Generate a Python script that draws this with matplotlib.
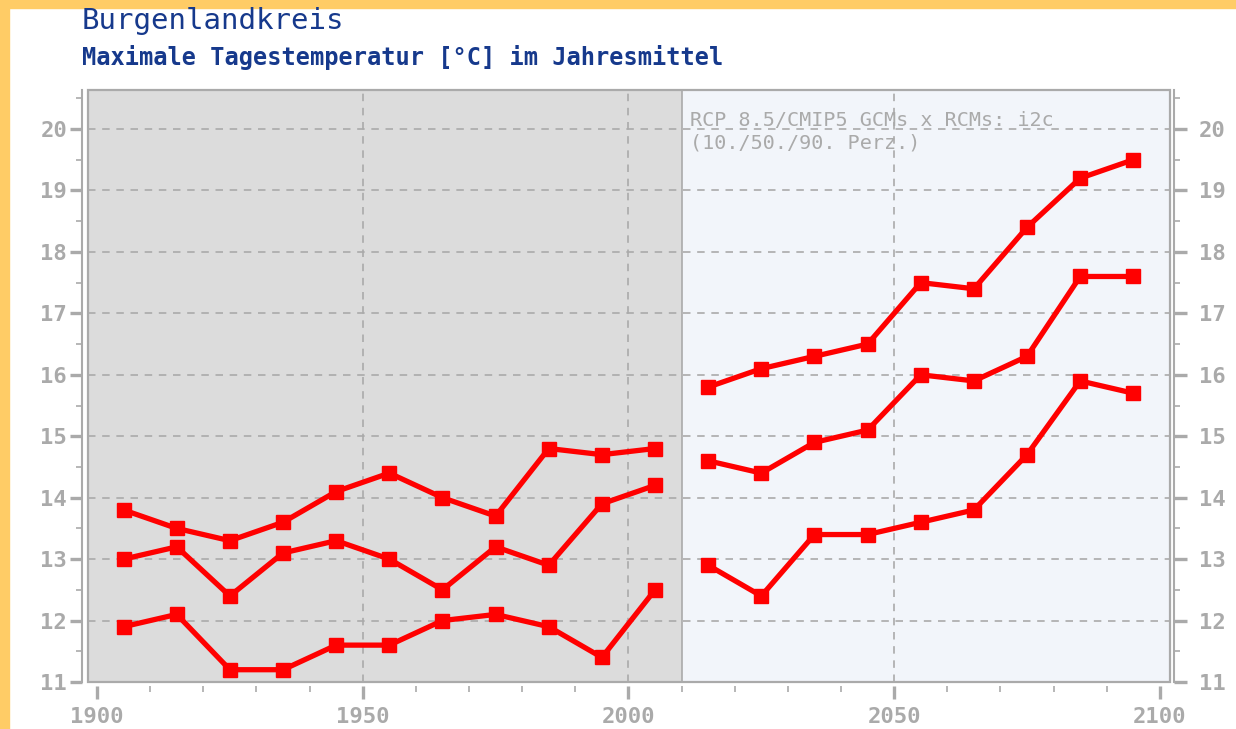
import numpy as np
import matplotlib.pyplot as plt
from matplotlib.patches import Rectangle
from matplotlib.ticker import MultipleLocator

# decades (mid points)
years_past = [1905, 1915, 1925, 1935, 1945, 1955, 1965, 1975, 1985, 1995, 2005]
years_future = [2015, 2025, 2035, 2045, 2055, 2065, 2075, 2085, 2095]

# observed: upper / middle / lower
obs_hi = [13.8, 13.5, 13.3, 13.6, 14.1, 14.4, 14.0, 13.7, 14.8, 14.7, 14.8]
obs_mid = [13.0, 13.2, 12.4, 13.1, 13.3, 13.0, 12.5, 13.2, 12.9, 13.9, 14.2]
obs_lo = [11.9, 12.1, 11.2, 11.2, 11.6, 11.6, 12.0, 12.1, 11.9, 11.4, 12.5]

# projection: 90. / 50. / 10. percentile
p90 = [15.8, 16.1, 16.3, 16.5, 17.5, 17.4, 18.4, 19.2, 19.5]
p50 = [14.6, 14.4, 14.9, 15.1, 16.0, 15.9, 16.3, 17.6, 17.6]
p10 = [12.9, 12.4, 13.4, 13.4, 13.6, 13.8, 14.7, 15.9, 15.7]

# style
grey = '#aaaaaa'
navy = '#16398c'
red = '#ff0000'
mono = 'DejaVu Sans Mono'
split = 2010

fig = plt.figure(figsize=(12.36, 7.29), dpi=100)
fig.patch.set_facecolor('white')

# yellow border strips (top, left)
fig.patches.append(Rectangle((0, 1 - 8/729), 1, 8/729, transform=fig.transFigure,
                             color='#ffcc66', zorder=0))
fig.patches.append(Rectangle((0, 0), 9/1236, 1, transform=fig.transFigure,
                             color='#ffcc66', zorder=0))

ax = fig.add_axes([88/1236, 1 - 682/729, (1170-88)/1236, (682-90)/729])
x0, x1 = 1898.3, 2101.9
y0, y1 = 11.0, 20.635
ax.set_xlim(x0, x1)
ax.set_ylim(y0, y1)

# background regions
ax.axvspan(x0, split, color='#dcdcdc', zorder=0, lw=0)
ax.axvspan(split, x1, color='#f2f5fa', zorder=0, lw=0)
ax.axvline(split, color=grey, lw=1.2, zorder=1)

# dashed grid
for gx in [1950, 2000, 2050]:
    ax.axvline(gx, color=grey, lw=1.2, ls=(0, (4.5, 4)), zorder=1)
for gy in range(12, 21):
    ax.axhline(gy, color=grey, lw=1.2, ls=(0, (4.5, 4)), zorder=1)

# frame
ax.add_patch(Rectangle((0, 0), 1, 1, transform=ax.transAxes, fill=False,
                       edgecolor=grey, lw=1.6, zorder=5, clip_on=False))

line_kw = dict(color=red, lw=3.8, marker='s', ms=9.5, zorder=4)
for vals in (obs_hi, obs_mid, obs_lo):
    ax.plot(years_past, vals, **line_kw)
for vals in (p90, p50, p10):
    ax.plot(years_future, vals, **line_kw)

ax.text(2011.6, 20.29, 'RCP 8.5/CMIP5 GCMs x RCMs: i2c\n(10./50./90. Perz.)',
        color=grey, fontsize=14.5, family=mono, va='top', ha='left',
        linespacing=1.2, zorder=3)

# axes / ticks
for s in ['top', 'right']:
    ax.spines[s].set_visible(False)
ax.spines['left'].set_position(('outward', 4))
ax.spines['left'].set_color(grey)
ax.spines['left'].set_linewidth(1.5)
ax.spines['bottom'].set_position(('outward', 3))
ax.spines['bottom'].set_linewidth(0)

ax.set_xticks([1900, 1950, 2000, 2050, 2100])
ax.xaxis.set_minor_locator(MultipleLocator(10))
ax.set_yticks(range(11, 21))
ax.yaxis.set_minor_locator(MultipleLocator(0.5))
ax.tick_params(which='major', length=9, width=2.4, color=grey)
ax.tick_params(which='minor', length=4.5, width=1.2, color=grey)
ax.tick_params(axis='x', which='major', pad=6)
ax.tick_params(axis='y', which='major', pad=2)
for lab in ax.get_xticklabels() + ax.get_yticklabels():
    lab.set_family(mono)
    lab.set_fontweight('bold')
    lab.set_fontsize(16)
    lab.set_color(grey)

# right axis
ax2 = ax.twinx()
ax2.set_ylim(y0, y1)
for s in ['top', 'left', 'bottom']:
    ax2.spines[s].set_visible(False)
ax2.spines['right'].set_position(('outward', 3))
ax2.spines['right'].set_color(grey)
ax2.spines['right'].set_linewidth(1.5)
ax2.set_yticks(range(11, 21))
ax2.yaxis.set_minor_locator(MultipleLocator(0.5))
ax2.tick_params(which='major', length=9, width=2.4, color=grey, pad=9)
ax2.tick_params(which='minor', length=4.5, width=1.2, color=grey)
for lab in ax2.get_yticklabels():
    lab.set_family(mono)
    lab.set_fontweight('bold')
    lab.set_fontsize(16)
    lab.set_color(grey)

# titles
fig.text(82/1236, 1 - 29/729, 'Burgenlandkreis', color=navy, fontsize=21,
         family=mono, va='baseline', ha='left')
fig.text(82/1236, 1 - 65/729, 'Maximale Tagestemperatur [°C] im Jahresmittel',
         color=navy, fontsize=17, family=mono, fontweight='bold',
         va='baseline', ha='left')

plt.savefig('out.png', dpi=100)
